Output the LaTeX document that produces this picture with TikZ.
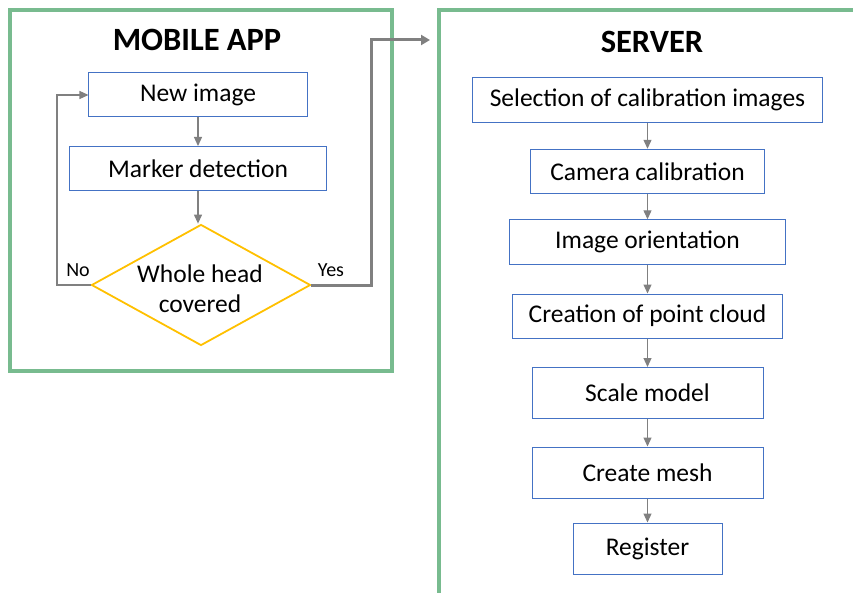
\documentclass[tikz,border=0pt]{standalone}
\usepackage{fontspec}
\setmainfont{Carlito}
\usetikzlibrary{arrows.meta,shapes.geometric}
\definecolor{panelgreen}{HTML}{78BB8F}
\definecolor{boxblue}{HTML}{4472C4}
\definecolor{diagold}{HTML}{FFC000}
\definecolor{arrowgray}{HTML}{808080}
\tikzset{
  panel/.style={draw=panelgreen, line width=4bp},
  stepbox/.style={draw=boxblue, line width=1bp, rectangle, inner sep=0pt, align=center,
    font=\fontsize{25.5bp}{30bp}\selectfont},
  decision/.style={draw=diagold, line width=1.8bp, diamond, inner sep=0pt},
  decisiontext/.style={align=center, inner sep=0pt, font=\fontsize{25.5bp}{30bp}\selectfont},
  titletext/.style={font=\fontsize{32.5bp}{38bp}\selectfont\bfseries},
  lbl/.style={font=\fontsize{20bp}{24bp}\selectfont},
  flow/.style={draw=arrowgray, line width=1.2bp, -{Triangle[length=9bp,width=8bp]}},
  bigflow/.style={draw=arrowgray, line width=3bp, -{Triangle[length=9bp,width=10bp]}},
}
\begin{document}
\begin{tikzpicture}[x=1bp,y=-1bp]
\useasboundingbox (0,0) rectangle (853,593);
\begin{scope}
\clip (0,0) rectangle (853,593);
\draw[panel] (10,10) rectangle (391.5,371);
\draw[panel] (439,10) rectangle (900,640);
\end{scope}
\node[titletext] (mtitle) at (197,40) {MOBILE APP};
\node[titletext] (stitle) at (652,42) {SERVER};
% mobile
\node[stepbox, minimum width=218bp, minimum height=44bp] (ni) at (198,95) {New image};
\node[stepbox, minimum width=256bp, minimum height=44bp] (md) at (198,168.5) {Marker detection};
\node[decision, minimum width=219bp, minimum height=121bp] (dc) at (201,285) {};
\node[decisiontext] (dct) at (200,289) {Whole head\\covered};
\coordinate (nocorner) at (57,285);
\coordinate (yescorner) at (371,285);
\coordinate (yestop) at (371,40);
\coordinate (yesend) at (430,40);
\draw[flow] (ni.south) -- (ni.south |- md.north);
\draw[flow] (md.south) -- (md.south |- dc.north);
\draw[flow] (dc.west) -- (nocorner) |- (ni.west);
\draw[bigflow] (dc.east) -- (yescorner) -- (yestop) -- (yesend);
\node[lbl] (no) at (78,270) {No};
\node[lbl] (yes) at (331,270) {Yes};
% server
\node[stepbox, minimum width=350bp, minimum height=45bp] (s1) at (647.5,100) {Selection of calibration images};
\node[stepbox, minimum width=234bp, minimum height=44bp] (s2) at (647.5,171.3) {Camera calibration};
\node[stepbox, minimum width=276bp, minimum height=45bp] (s3) at (647.5,242.3) {Image orientation};
\node[stepbox, minimum width=270bp, minimum height=44bp] (s4) at (647.5,316) {Creation of point cloud};
\node[stepbox, minimum width=231bp, minimum height=51bp] (s5) at (647.5,393) {Scale model};
\node[stepbox, minimum width=231bp, minimum height=51bp] (s6) at (647.5,472.5) {Create mesh};
\node[stepbox, minimum width=149bp, minimum height=51bp] (s7) at (647.5,548.5) {Register};
\foreach \a/\b in {s1/s2,s2/s3,s3/s4,s4/s5,s5/s6,s6/s7}
  \draw[flow] (\a.south) -- (\a.south |- \b.north);
\end{tikzpicture}
\end{document}
